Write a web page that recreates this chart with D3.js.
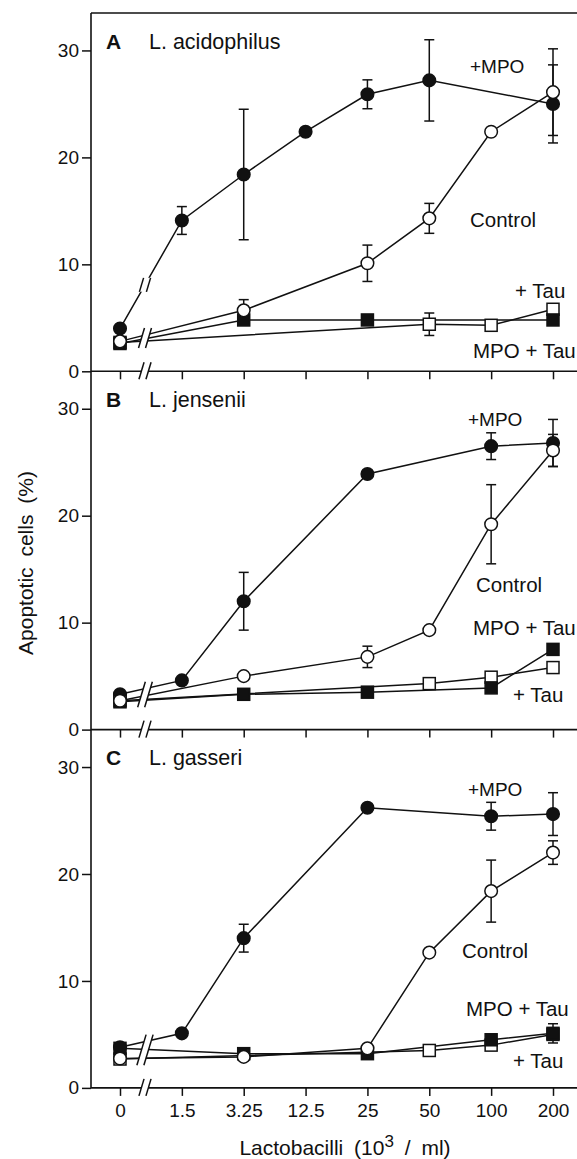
<!DOCTYPE html>
<html>
<head>
<meta charset="utf-8">
<script src="https://cdn.jsdelivr.net/npm/d3@7"></script>
<style>
  body { margin: 0; background: #fff; }
  text { font-family: "Liberation Sans", Arial, Helvetica, sans-serif; fill: #111; }
</style>
</head>
<body>
<div id="chart"></div>
<script>
// x categories (10^3 lactobacilli / ml), equally spaced on the axis
var categories = ["0", "1.5", "3.25", "12.5", "25", "50", "100", "200"];
var yTicks = [0, 10, 20, 30];

var panelLetters = ["A", "B", "C"];
var panelNames = ["L. acidophilus", "L. jensenii", "L. gasseri"];

// panel A : L. acidophilus  (null = no point at that concentration)
var aMpo        = [4.0, 14.1, 18.4, 22.4, 25.9, 27.2, null, 25.0];
var aMpoErr     = [0, 1.3, 6.1, 0, 1.35, 3.8, 0, 3.65];
var aControl    = [2.8, null, 5.7, null, 10.1, 14.3, 22.4, 26.1];
var aControlErr = [0, 0, 1.0, 0, 1.7, 1.4, 0, 4.05];
var aMpoTau     = [2.6, null, 4.8, null, 4.8, null, null, 4.8];
var aMpoTauErr  = [0, 0, 0, 0, 0, 0, 0, 0];
var aTau        = [2.7, null, null, null, null, 4.4, 4.3, 5.8];
var aTauErr     = [0, 0, 0, 0, 0, 1.05, 0, 0];

// panel B : L. jensenii
var bMpo        = [3.3, 4.6, 12.0, null, 23.9, null, 26.5, 26.8];
var bMpoErr     = [0, 0, 2.7, 0, 0, 0, 1.25, 2.2];
var bControl    = [2.7, null, 5.0, null, 6.8, 9.3, 19.2, 26.1];
var bControlErr = [0, 0, 0, 0, 1.0, 0, 3.7, 1.5];
var bMpoTau     = [2.6, null, 3.3, null, 3.5, null, 3.9, 7.5];
var bMpoTauErr  = [0, 0, 0, 0, 0, 0, 0, 0];
var bTau        = [2.7, null, null, null, null, 4.3, 4.9, 5.8];
var bTauErr     = [0, 0, 0, 0, 0, 0, 0, 0];

// panel C : L. gasseri
var cMpo        = [3.8, 5.1, 14.0, null, 26.2, null, 25.4, 25.6];
var cMpoErr     = [0, 0, 1.3, 0, 0, 0, 1.3, 2.0];
var cControl    = [2.75, null, 2.9, null, 3.7, 12.65, 18.4, 22.0];
var cControlErr = [0, 0, 0, 0, 0, 0, 2.9, 1.1];
var cMpoTau     = [3.7, null, 3.2, null, 3.2, null, 4.5, 5.1];
var cMpoTauErr  = [0, 0, 0, 0, 0, 0, 0, 0.9];
var cTau        = [2.7, null, null, null, null, 3.5, 4.0, 5.0];
var cTauErr     = [0, 0, 0, 0, 0, 0, 0, 0];

// series labels and where they sit (x in px, y in data units)
var labelText = ["+MPO", "Control", "MPO + Tau", "+ Tau"];
var labelPos = [
  [[470, 27.9], [470, 13.5], [473, 1.25], [515, 6.85]],
  [[468, 28.4], [476, 12.9], [473, 8.8], [513, 2.6]],
  [[468, 27.3], [462, 12.1], [466, 6.7], [513, 1.85]]
];

var panels = [
  {mpo: aMpo, mpoErr: aMpoErr, control: aControl, controlErr: aControlErr,
   mpoTau: aMpoTau, mpoTauErr: aMpoTauErr, tau: aTau, tauErr: aTauErr},
  {mpo: bMpo, mpoErr: bMpoErr, control: bControl, controlErr: bControlErr,
   mpoTau: bMpoTau, mpoTauErr: bMpoTauErr, tau: bTau, tauErr: bTauErr},
  {mpo: cMpo, mpoErr: cMpoErr, control: cControl, controlErr: cControlErr,
   mpoTau: cMpoTau, mpoTauErr: cMpoTauErr, tau: cTau, tauErr: cTauErr}
];

// layout
var width = 577, height = 1159;
var axisLeft = 91, axisRight = 577;
var panelTop = 13, panelH = 358.3, yMax = 33.5;
var breakX = 145;
var ink = "#111";

var svg = d3.select("#chart").append("svg")
  .attr("width", width)
  .attr("height", height);

var x = d3.scalePoint()
  .domain(categories)
  .range([120, 553]);

// draws a "//" axis break centred on cx between y1 and y2
function drawBreak(g, cx, y1, y2) {
  var lean = (y2 - y1) * 0.15, gap = 3.5;
  g.append("polygon")
    .attr("points", [[cx - gap + lean, y1], [cx + gap + lean, y1],
                     [cx + gap - lean, y2], [cx - gap - lean, y2]].join(" "))
    .attr("fill", "#fff");
  [-gap, gap].forEach(function(o) {
    g.append("line")
      .attr("x1", cx + o + lean).attr("y1", y1)
      .attr("x2", cx + o - lean).attr("y2", y2)
      .attr("stroke", ink).attr("stroke-width", 1.5);
  });
}

// top frame line and the long y axis line
svg.append("line")
  .attr("x1", axisLeft).attr("x2", axisRight)
  .attr("y1", panelTop).attr("y2", panelTop)
  .attr("stroke", ink).attr("stroke-width", 1.6);
svg.append("line")
  .attr("x1", axisLeft).attr("x2", axisLeft)
  .attr("y1", panelTop).attr("y2", panelTop + 3 * panelH)
  .attr("stroke", ink).attr("stroke-width", 1.6);

panels.forEach(function(p, pi) {
  var top = panelTop + pi * panelH;
  var bottom = top + panelH;

  var y = d3.scaleLinear()
    .domain([0, yMax])
    .range([bottom, top]);

  var g = svg.append("g");

  // y axis ticks and labels
  var yAxis = d3.axisLeft(y).tickValues(yTicks).tickSize(9).tickPadding(3);
  var yg = g.append("g")
    .attr("transform", "translate(" + axisLeft + ",0)")
    .call(yAxis);
  yg.select(".domain").remove();
  yg.selectAll("line").attr("stroke", ink).attr("stroke-width", 1.5);
  yg.selectAll("text").style("font-size", "19px").attr("fill", ink);

  // x axis ticks (labels only on the last panel)
  var xAxis = d3.axisBottom(x).tickSize(8).tickPadding(8);
  if (pi < 2) xAxis.tickFormat("");
  var xg = g.append("g")
    .attr("transform", "translate(0," + bottom + ")")
    .call(xAxis);
  xg.select(".domain").remove();
  xg.selectAll("line").attr("stroke", ink).attr("stroke-width", 1.5);
  xg.selectAll("text").style("font-size", "19px").attr("fill", ink);

  g.append("line")
    .attr("x1", axisLeft).attr("x2", axisRight)
    .attr("y1", bottom).attr("y2", bottom)
    .attr("stroke", ink).attr("stroke-width", 1.6);
  drawBreak(g, breakX, bottom - 9, bottom + 8);

  // panel title
  g.append("text")
    .attr("x", 106).attr("y", y(30.15))
    .style("font-size", "21px").style("font-weight", "bold")
    .text(panelLetters[pi]);
  g.append("text")
    .attr("x", 149).attr("y", y(30.15))
    .style("font-size", "21.5px")
    .text(panelNames[pi]);

  // series, in drawing order of the markers
  var series = [
    {vals: p.tau, err: p.tauErr, shape: "square", fill: "#fff"},
    {vals: p.mpoTau, err: p.mpoTauErr, shape: "square", fill: ink},
    {vals: p.mpo, err: p.mpoErr, shape: "circle", fill: ink},
    {vals: p.control, err: p.controlErr, shape: "circle", fill: "#fff"}
  ];

  var line = d3.line()
    .x(function(d) { return x(d.c); })
    .y(function(d) { return y(d.v); });

  series.forEach(function(s) {
    s.pts = s.vals.map(function(v, i) {
      return {c: categories[i], v: v, e: s.err[i]};
    }).filter(function(d) { return d.v !== null; });

    g.append("path")
      .datum(s.pts)
      .attr("d", line)
      .attr("fill", "none")
      .attr("stroke", ink)
      .attr("stroke-width", 1.5);
  });

  // breaks on the lines between 0 and the first concentration
  var breakYs = series.map(function(s) {
    var a = s.pts[0], b = s.pts[1];
    var t = (breakX - x(a.c)) / (x(b.c) - x(a.c));
    return y(a.v) + t * (y(b.v) - y(a.v));
  }).sort(d3.ascending);
  var groups = [[breakYs[0]]];
  breakYs.slice(1).forEach(function(v) {
    var last = groups[groups.length - 1];
    if (v - last[last.length - 1] < 14) last.push(v); else groups.push([v]);
  });
  groups.forEach(function(grp) {
    drawBreak(g, breakX, d3.min(grp) - 7, d3.max(grp) + 7);
  });

  // error bars
  series.forEach(function(s) {
    var eb = g.selectAll(null)
      .data(s.pts.filter(function(d) { return d.e > 0; }))
      .enter().append("g");
    eb.append("line")
      .attr("x1", function(d) { return x(d.c); })
      .attr("x2", function(d) { return x(d.c); })
      .attr("y1", function(d) { return y(d.v - d.e); })
      .attr("y2", function(d) { return y(d.v + d.e); })
      .attr("stroke", ink).attr("stroke-width", 1.5);
    [-1, 1].forEach(function(sign) {
      eb.append("line")
        .attr("x1", function(d) { return x(d.c) - 5; })
        .attr("x2", function(d) { return x(d.c) + 5; })
        .attr("y1", function(d) { return y(d.v + sign * d.e); })
        .attr("y2", function(d) { return y(d.v + sign * d.e); })
        .attr("stroke", ink).attr("stroke-width", 1.5);
    });
  });

  // markers
  series.forEach(function(s) {
    if (s.shape === "circle") {
      g.selectAll(null)
        .data(s.pts)
        .enter().append("circle")
        .attr("cx", function(d) { return x(d.c); })
        .attr("cy", function(d) { return y(d.v); })
        .attr("r", 6.3)
        .attr("fill", s.fill)
        .attr("stroke", ink)
        .attr("stroke-width", 1.5);
    } else {
      g.selectAll(null)
        .data(s.pts)
        .enter().append("rect")
        .attr("x", function(d) { return x(d.c) - 6; })
        .attr("y", function(d) { return y(d.v) - 6; })
        .attr("width", 12)
        .attr("height", 12)
        .attr("fill", s.fill)
        .attr("stroke", ink)
        .attr("stroke-width", 1.5);
    }
  });

  // series labels
  labelText.forEach(function(t, li) {
    g.append("text")
      .attr("x", labelPos[pi][li][0])
      .attr("y", y(labelPos[pi][li][1]))
      .style("font-size", li === 0 ? "19px" : "20.5px")
      .text(t);
  });
});

// axis titles
svg.append("text")
  .attr("transform", "translate(33,563) rotate(-90)")
  .attr("text-anchor", "middle")
  .style("font-size", "21px")
  .style("word-spacing", "5px")
  .text("Apoptotic cells (%)");

var xTitle = svg.append("text")
  .attr("x", 345).attr("y", 1155)
  .attr("text-anchor", "middle")
  .style("font-size", "21px")
  .style("word-spacing", "5px");
xTitle.append("tspan").text("Lactobacilli (10");
xTitle.append("tspan").attr("dy", -8).style("font-size", "17px").text("3");
xTitle.append("tspan").attr("dy", 8).text(" / ml)");
</script>
</body>
</html>
